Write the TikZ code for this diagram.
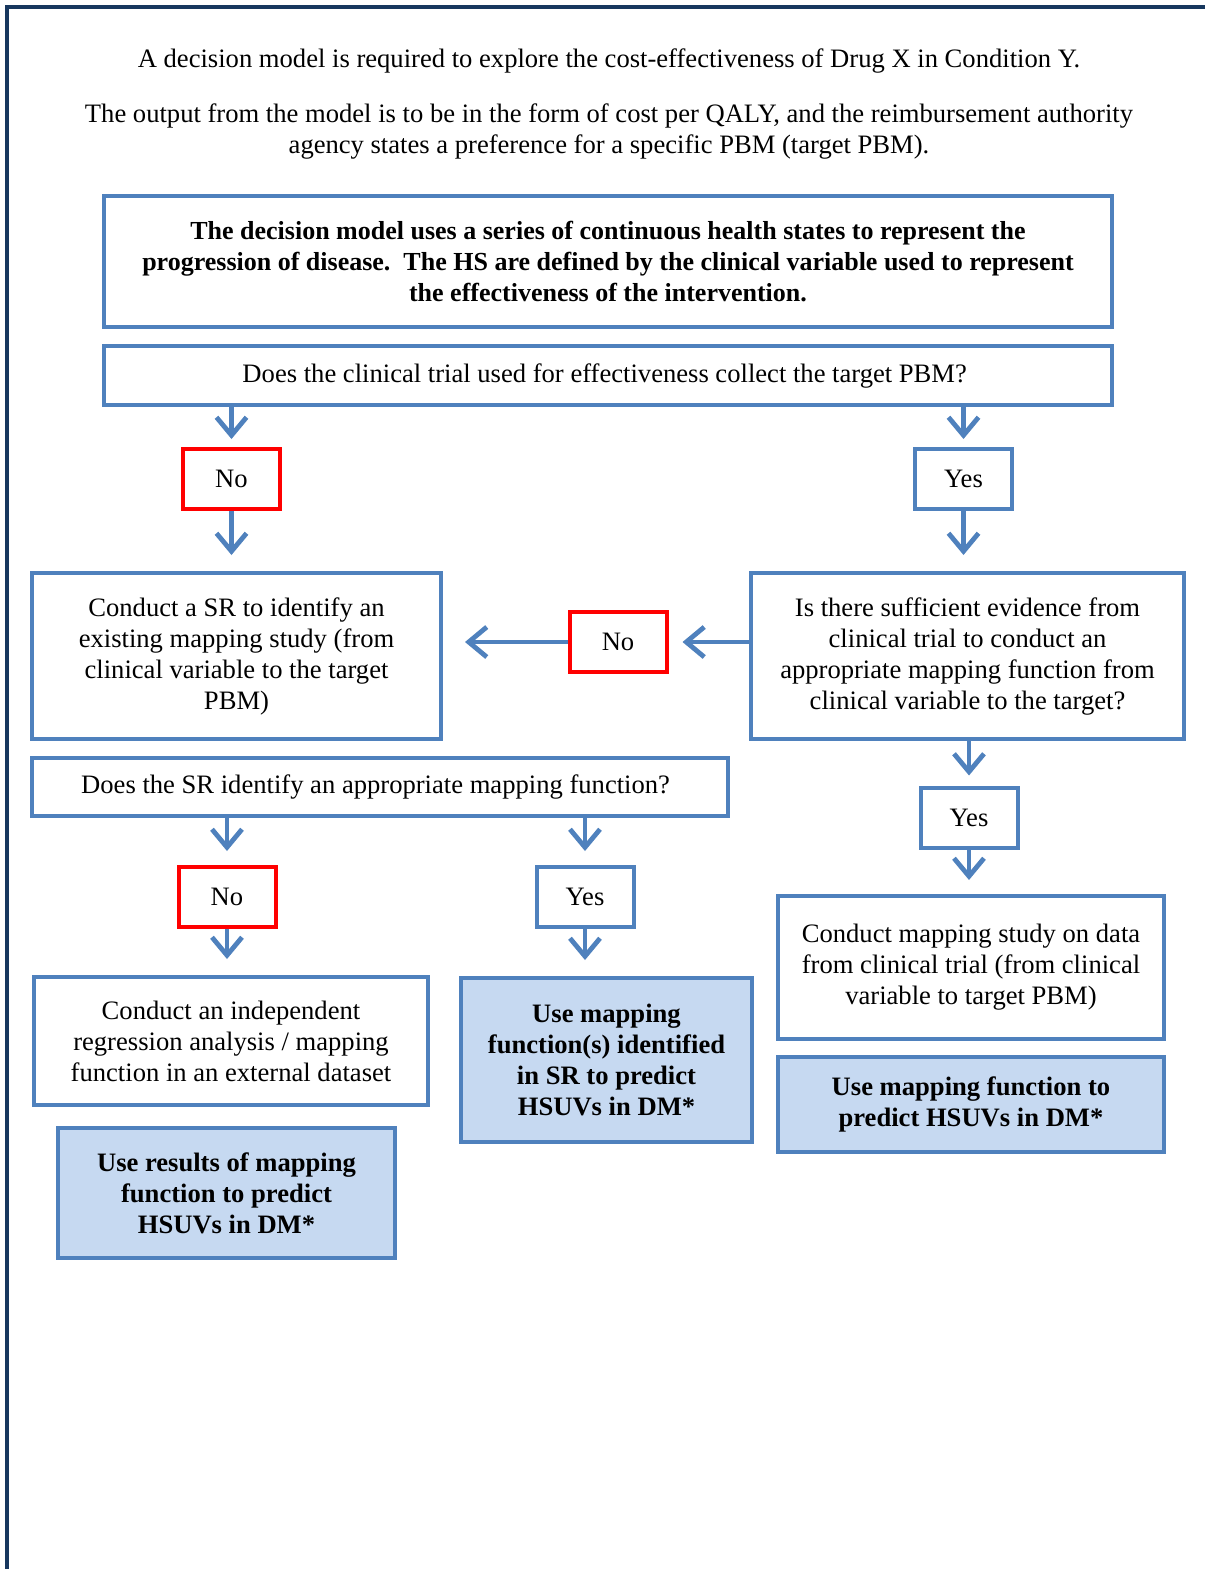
\documentclass[tikz,border=0pt]{standalone}
\usepackage{fontspec}
\setmainfont{Liberation Serif}
\usetikzlibrary{arrows.meta,positioning}
\definecolor{fcblue}{HTML}{4F81BD}
\definecolor{fcred}{HTML}{FF0000}
\definecolor{fcfill}{HTML}{C6D9F1}
\definecolor{fcnavy}{HTML}{17375E}
\newcommand{\fcfont}{\fontsize{13.3}{15.5}\selectfont}

\begin{document}
\begin{tikzpicture}[x=0.5pt, y=-0.5pt,
  every node/.style={font=\fcfont, align=center, inner sep=0pt},
  box/.style={draw=fcblue, line width=2pt, rectangle},
  result/.style={box, fill=fcfill, font=\fcfont\bfseries},
  answer/.style={draw=fcblue, line width=2pt, rectangle, minimum width=48.5pt, minimum height=30pt},
  noanswer/.style={answer, draw=fcred},
  flow/.style={draw=fcblue, line width=2.4pt, -{Straight Barb[length=9pt, width=15pt]}}]
  \useasboundingbox (0,0) rectangle (1205,1569);

  % Frame
  \draw[fcnavy, line width=2.4pt] (7,1569) -- (7,7) -- (1205,7);

  % Intro text
  \node (intro) at (609,61) {A decision model is required to explore the cost-effectiveness of Drug X in Condition Y.};
  \node (output) at (609,132) {The output from the model is to be in the form of cost per QALY, and the reimbursement authority\\
    agency states a preference for a specific PBM (target PBM).};

  % Model description
  \node[box, font=\fontsize{13}{15.5}\selectfont\bfseries, minimum width=504pt, minimum height=65.5pt] (model) at (608,261.5) {
    The decision model uses a series of continuous health states to represent the\\
    progression of disease.\ \ The HS are defined by the clinical variable used to represent\\
    the effectiveness of the intervention.
  };

  % First question
  \node[box, minimum width=504pt, minimum height=29.5pt] (trial) at (608,375.5) {
    Does the clinical trial used for effectiveness collect the target PBM?
  };
  \node[noanswer] (no1) at (231.5,479) {No};
  \node[answer] (yes1) at (963.5,479) {Yes};

  % Second level
  \node[box, minimum width=204.5pt, minimum height=83pt] (srbox) at (236.5,656) {
    Conduct a SR to identify an\\
    existing mapping study (from\\
    clinical variable to the target\\
    PBM)
  };
  \node[box, minimum width=216.5pt, minimum height=83pt] (evid) at (967.5,656) {
    Is there sufficient evidence from\\
    clinical trial to conduct an\\
    appropriate mapping function from\\
    clinical variable to the target?
  };
  \node[noanswer] (no2) at (618,642) {No};

  % SR question
  \node[box, minimum width=348pt, minimum height=29pt] (srq) at (380,787) {
    Does the SR identify an appropriate mapping function?
  };
  \node[answer] (yes2) at (969,817.5) {Yes};
  \node[noanswer] (no3) at (227,897) {No};
  \node[answer] (yes3) at (585,897) {Yes};

  % Actions
  \node[box, minimum width=193pt, minimum height=71.5pt] (mapstudy) at (971,967.5) {
    Conduct mapping study on data\\
    from clinical trial (from clinical\\
    variable to target PBM)
  };
  \node[result, minimum width=193pt, minimum height=47.5pt] (usemap) at (971,1104.5) {
    Use mapping function to\\
    predict HSUVs in DM*
  };
  \node[box, minimum width=197pt, minimum height=64pt] (regress) at (231,1041) {
    Conduct an independent\\
    regression analysis / mapping\\
    function in an external dataset
  };
  \node[result, minimum width=168.5pt, minimum height=65pt] (useres) at (226.5,1193) {
    Use results of mapping\\
    function to predict\\
    HSUVs in DM*
  };
  \node[result, minimum width=145.5pt, minimum height=82pt] (usesr) at (606.5,1060) {
    Use mapping\\
    function(s) identified\\
    in SR to predict\\
    HSUVs in DM*
  };

  % Arrows
  \draw[flow, shorten >=4pt] (no1 |- trial.south) -- (no1.north);
  \draw[flow, shorten >=4pt] (yes1 |- trial.south) -- (yes1.north);
  \draw[flow, shorten >=8pt] (no1.south) -- (no1 |- srbox.north);
  \draw[flow, shorten >=8pt] (yes1.south) -- (yes1 |- evid.north);
  \draw[flow, shorten >=7pt] (evid.west |- no2) -- (no2.east);
  \draw[flow, shorten >=11pt] (no2.west) -- (no2 -| srbox.east);
  \draw[flow, shorten >=5pt] (yes2 |- evid.south) -- (yes2.north);
  \draw[flow, shorten >=7pt] (yes2.south) -- (yes2 |- mapstudy.north);
  \draw[flow, shorten >=7pt] (no3 |- srq.south) -- (no3.north);
  \draw[flow, shorten >=7pt] (yes3 |- srq.south) -- (yes3.north);
  \draw[flow, shorten >=8pt] (no3.south) -- (no3 |- regress.north);
  \draw[flow, shorten >=8pt] (yes3.south) -- (yes3 |- usesr.north);
\end{tikzpicture}
\end{document}
